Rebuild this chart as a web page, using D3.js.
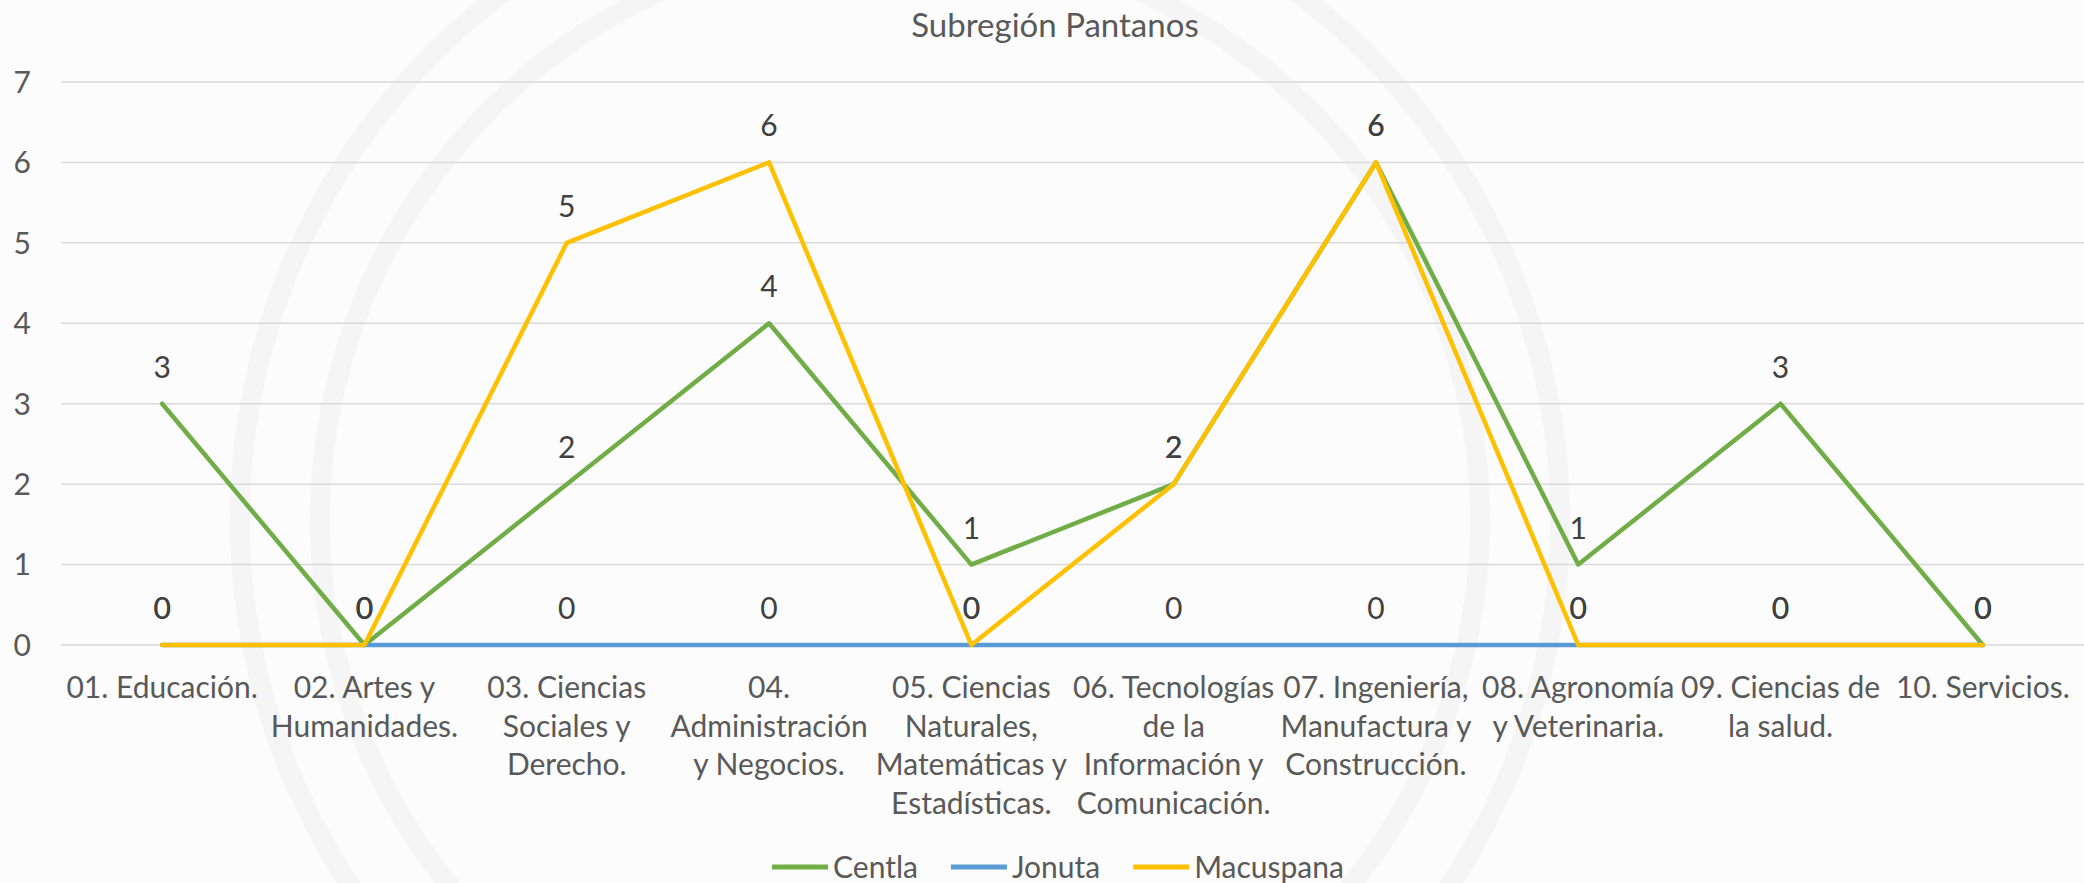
<!DOCTYPE html>
<html>
<head>
<meta charset="utf-8">
<script src="https://cdn.jsdelivr.net/npm/d3@7"></script>
<style>
  html, body { margin: 0; padding: 0; background: #fcfcfc; }
  svg { display: block; font-family: Lato, "Open Sans", sans-serif; }
</style>
</head>
<body>
<svg id="chart" width="2084" height="883"></svg>
<script>
// categories, one entry per line of the wrapped tick label
const categories = [
  ["01. Educación."],
  ["02. Artes y", "Humanidades."],
  ["03. Ciencias", "Sociales y", "Derecho."],
  ["04.", "Administración", "y Negocios."],
  ["05. Ciencias", "Naturales,", "Matemáticas y", "Estadísticas."],
  ["06. Tecnologías", "de la", "Información y", "Comunicación."],
  ["07. Ingeniería,", "Manufactura y", "Construcción."],
  ["08. Agronomía", "y Veterinaria."],
  ["09. Ciencias de", "la salud."],
  ["10. Servicios."]
];
const centla    = [3, 0, 2, 4, 1, 2, 6, 1, 3, 0];
const jonuta    = [0, 0, 0, 0, 0, 0, 0, 0, 0, 0];
const macuspana = [0, 0, 5, 6, 0, 2, 6, 0, 0, 0];
const seriesNames = ["Centla", "Jonuta", "Macuspana"];
const yTicks = [0, 1, 2, 3, 4, 5, 6, 7];
const title = "Subregión Pantanos";

const series = [
  {name: seriesNames[0], values: centla,    color: "#70AD47"},
  {name: seriesNames[1], values: jonuta,    color: "#5B9BD5"},
  {name: seriesNames[2], values: macuspana, color: "#FFC000"}
];

let svg = d3.select("#chart");
let width = +svg.attr("width");
let height = +svg.attr("height");

let catKeys = categories.map(c => c.join(" "));
let x = d3.scalePoint().domain(catKeys).range([61, 2084]).padding(0.5);
let y = d3.scaleLinear().domain([0, 7]).range([645, 82]);

// faint watermark rings
let bg = svg.append("g").attr("class", "background");
bg.append("rect").attr("width", width).attr("height", height).attr("fill", "#fcfcfc");
[660, 580].forEach(r => {
    bg.append("circle")
        .attr("cx", 900).attr("cy", 520).attr("r", r)
        .attr("fill", "none")
        .attr("stroke", "#f5f5f5")
        .attr("stroke-width", 20);
});

// title
svg.append("text")
    .attr("x", 1055).attr("y", 37)
    .attr("text-anchor", "middle")
    .attr("font-size", 33)
    .attr("fill", "#595959")
    .text(title);

// gridlines + y labels
let grid = svg.append("g").attr("class", "grid");
grid.selectAll("line")
    .data(yTicks).enter().append("line")
    .attr("x1", 61).attr("x2", 2084)
    .attr("y1", d => y(d)).attr("y2", d => y(d))
    .attr("stroke", "#d9d9d9")
    .attr("stroke-width", 1.5);

svg.append("g").selectAll("text")
    .data(yTicks).enter().append("text")
    .attr("x", 31).attr("y", d => y(d))
    .attr("dy", "0.36em")
    .attr("text-anchor", "end")
    .attr("font-size", 30)
    .attr("fill", "#595959")
    .text(d => d);

// category labels
let xLab = svg.append("g").attr("class", "x-labels");
xLab.selectAll("text")
    .data(categories).enter().append("text")
    .attr("text-anchor", "middle")
    .attr("font-size", 30)
    .attr("fill", "#595959")
    .each(function(lines, i) {
        let t = d3.select(this);
        lines.forEach((ln, j) => {
            t.append("tspan")
                .attr("x", x(catKeys[i]))
                .attr("y", 698 + j * 38.5)
                .text(ln);
        });
    });

// lines
let line = d3.line()
    .x((d, i) => x(catKeys[i]))
    .y(d => y(d));

svg.append("g").selectAll("path")
    .data(series).enter().append("path")
    .attr("d", d => line(d.values))
    .attr("fill", "none")
    .attr("stroke", d => d.color)
    .attr("stroke-width", 4.5)
    .attr("stroke-linejoin", "round")
    .attr("stroke-linecap", "round");

// data labels
let labels = svg.append("g").attr("class", "data-labels");
series.forEach(s => {
    labels.selectAll(null)
        .data(s.values).enter().append("text")
        .attr("x", (d, i) => x(catKeys[i]))
        .attr("y", d => y(d) - 26)
        .attr("text-anchor", "middle")
        .attr("font-size", 30)
        .attr("fill", "#404040")
        .text(d => d);
});

// legend
let legend = svg.append("g").attr("class", "legend");
let swatch = 56, gap = 5, itemGap = 33, ly = 867;
let items = legend.selectAll("g")
    .data(series).enter().append("g");
items.append("line")
    .attr("x1", 0).attr("x2", swatch)
    .attr("y1", ly).attr("y2", ly)
    .attr("stroke", d => d.color)
    .attr("stroke-width", 5);
items.append("text")
    .attr("x", swatch + gap).attr("y", ly)
    .attr("dy", "0.35em")
    .attr("font-size", 30)
    .attr("fill", "#595959")
    .text(d => d.name);

let widths = [];
items.each(function() { widths.push(this.getBBox().width); });
let total = d3.sum(widths) + itemGap * (widths.length - 1);
let cx = 1058 - total / 2;
items.attr("transform", (d, i) => {
    let tx = cx;
    cx += widths[i] + itemGap;
    return `translate(${tx},0)`;
});
</script>
</body>
</html>
